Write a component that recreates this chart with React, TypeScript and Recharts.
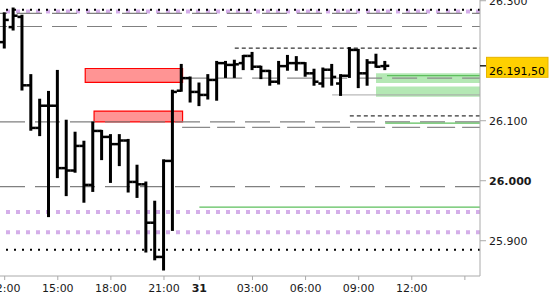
import { ComposedChart, Bar, XAxis, YAxis, ReferenceLine, ReferenceArea } from 'recharts'

// 30 minute bars, 30 Oct 12:00 -> 31 Oct 10:30 (no trading 23:00-00:00)
const times = [
    '12:00', '12:30', '13:00', '13:30', '14:00', '14:30', '15:00', '15:30', '16:00', '16:30', '17:00',
    '17:30', '18:00', '18:30', '19:00', '19:30', '20:00', '20:30', '21:00', '21:30', '22:00', '22:30',
    '00:00', '00:30', '01:00', '01:30', '02:00', '02:30', '03:00', '03:30', '04:00', '04:30', '05:00',
    '05:30', '06:00', '06:30', '07:00', '07:30', '08:00', '08:30', '09:00', '09:30', '10:00', '10:30',
]
const opens = [
    26231, 26256, 26273, 26159, 26088, 26125, 26125, 26021, 26017, 26058, 25993, 26083, 26073, 26061, 26067,
    25998, 25994, 25930, 25873, 26033, 26150, 26171, 26148, 26143, 26168, 26196, 26193, 26196, 26208, 26190,
    26183, 26165, 26191, 26196, 26196, 26179, 26162, 26185, 26162, 26175, 26218, 26179, 26197, 26191,
]
const highs = [
    26279, 26287, 26275, 26176, 26135, 26148, 26183, 26100, 26080, 26065, 26097, 26083, 26076, 26076, 26068,
    26025, 25997, 25965, 26034, 26150, 26193, 26172, 26162, 26176, 26198, 26198, 26200, 26208, 26213, 26190,
    26183, 26198, 26208, 26206, 26196, 26185, 26187, 26193, 26176, 26221, 26218, 26201, 26210, 26198,
]
const lows = [
    26222, 26252, 26152, 26085, 26076, 25941, 26006, 25976, 26015, 25965, 25983, 26036, 25998, 26026, 25982,
    25973, 25882, 25869, 25852, 25918, 26150, 26132, 26126, 26137, 26135, 26173, 26173, 26186, 26186, 26171,
    26160, 26162, 26185, 26185, 26175, 26160, 26157, 26160, 26143, 26173, 26156, 26160, 26190, 26186,
]
const closes = [
    26268, 26275, 26159, 26088, 26125, 26125, 26021, 26017, 26058, 25993, 26083, 26073, 26061, 26067, 25998,
    25994, 25930, 25873, 26033, 26148, 26171, 26148, 26143, 26168, 26196, 26193, 26194, 26208, 26190, 26183,
    26165, 26191, 26196, 26196, 26179, 26165, 26185, 26173, 26175, 26218, 26179, 26197, 26190, 26191.5,
]

const lastPrice = 26191.5

const xTicks = [0, 6, 12, 18, 22, 28, 34, 40, 46, 52]
const xTickLabels = ['12:00', '15:00', '18:00', '21:00', '31', '03:00', '06:00', '09:00', '12:00', '']
const yTicks = [25900, 26000, 26100, lastPrice, 26300]

const xMin = -0.53
const xMax = 53.71
const yMin = 25841.2
const yMax = 26301.2

// horizontal levels
const blackDotLevels = [26285, 25885]
const purpleDotLevels = [26282, 25948, 25914]
const grayDashTop = [26279, 26257]
const grayDashLevels = [26098, 25990]
const grayDashFrom = { level: 26171, from: 20.05 }
const grayDash2From = { level: 26089, from: 20.05 }
const graySolidFrom = { level: 26143, from: 37 }
const blackDashFrom = [
    { level: 26221, from: 26 },
    { level: 26108, from: 39 },
]
const greenLines = [
    { level: 26175, from: 43.2 },
    { level: 26096, from: 43 },
    { level: 25956, from: 22 },
]
const redZones = [
    { x1: 9.1, x2: 20.1, y1: 26164, y2: 26187 },
    { x1: 10.1, x2: 20.1, y1: 26098, y2: 26116 },
]
const greenZones = [
    { x1: 41.96, y1: 26163, y2: 26179 },
    { x1: 41.96, y1: 26140, y2: 26157 },
]

const rows = times.map((t, i) => ({
    idx: i,
    time: t,
    open: opens[i],
    high: highs[i],
    low: lows[i],
    close: closes[i],
}))

const fmt = (v: number) => {
    const int = Math.floor(v)
    const s = String(int)
    const th = s.slice(0, -3) + '.' + s.slice(-3)
    if (v !== int) return th + ',' + Math.round((v - int) * 100).toString().padStart(2, '0')
    return th
}

const OhlcShape = (props: any) => {
    const { x, y, width, height, payload } = props
    const cx = x + width / 2
    const span = payload.high - payload.low
    const at = (p: number) => (span === 0 ? y : y + ((payload.high - p) / span) * height)
    return (
        <g stroke="#000">
            <line x1={cx} x2={cx} y1={y - 1} y2={y + height + 1} strokeWidth={3} />
            <line x1={cx - 4.5} x2={cx} y1={at(payload.open)} y2={at(payload.open)} strokeWidth={2.5} />
            <line x1={cx} x2={cx + 4.5} y1={at(payload.close)} y2={at(payload.close)} strokeWidth={2.5} />
        </g>
    )
}

const TimeTick = (props: any) => {
    const { x, y, payload } = props
    const label = xTickLabels[xTicks.indexOf(payload.value)]
    return (
        <text
            x={x}
            y={y + 10}
            textAnchor="middle"
            fontSize={11}
            fontFamily="DejaVu Sans"
            fontWeight={label === '31' ? 'bold' : 'normal'}
            fill="#1a1a1a"
        >
            {label}
        </text>
    )
}

const PriceTick = (props: any) => {
    const { x, y, payload } = props
    const v = payload.value
    if (v === lastPrice) {
        return (
            <g>
                <line x1={x - 8} x2={x - 1} y1={y} y2={y} stroke="#000" strokeWidth={1.2} />
                <rect x={x - 1.5} y={y - 8.5} width={61.5} height={20} fill="#ffd000" stroke="#e6b400" />
                <text x={x + 1} y={y + 9} fontSize={11} fontFamily="DejaVu Sans" fill="#000">
                    {fmt(v)}
                </text>
            </g>
        )
    }
    return (
        <text
            x={x + 1}
            y={y + 4}
            fontSize={11}
            fontFamily="DejaVu Sans"
            fontWeight={v === 26000 ? 'bold' : 'normal'}
            fill="#1a1a1a"
        >
            {fmt(v)}
        </text>
    )
}

export default function App() {
    return (
        <div style={{ position: 'absolute', left: 0, top: 0, width: 550, height: 300, background: '#fff' }}>
            <ComposedChart width={550} height={300} data={rows} margin={{ top: 0, right: 0, bottom: 0, left: 0 }}>
                <XAxis
                    dataKey="idx"
                    type="number"
                    domain={[xMin, xMax]}
                    allowDataOverflow
                    ticks={xTicks}
                    interval={0}
                    height={24}
                    tickSize={4}
                    tickMargin={2}
                    axisLine={{ stroke: '#aaa' }}
                    tickLine={{ stroke: '#aaa' }}
                    tick={(p: any) => <TimeTick {...p} />}
                />
                <YAxis
                    type="number"
                    orientation="right"
                    width={70}
                    domain={[yMin, yMax]}
                    allowDataOverflow
                    ticks={yTicks}
                    interval={0}
                    tickSize={6}
                    tickMargin={2}
                    axisLine={{ stroke: '#aaa' }}
                    tickLine={{ stroke: '#aaa' }}
                    tick={(p: any) => <PriceTick {...p} />}
                />

                {redZones.map((z, i) => (
                    <ReferenceArea
                        key={`red-${i}`}
                        x1={z.x1}
                        x2={z.x2}
                        y1={z.y1}
                        y2={z.y2}
                        fill="#ff9494"
                        fillOpacity={1}
                        stroke="#ff0000"
                        strokeWidth={1.2}
                        zIndex={50}
                    />
                ))}
                {greenZones.map((z, i) => (
                    <ReferenceArea
                        key={`green-${i}`}
                        x1={z.x1}
                        x2={xMax}
                        y1={z.y1}
                        y2={z.y2}
                        fill="#b4e8b4"
                        fillOpacity={1}
                        stroke="none"
                        zIndex={50}
                    />
                ))}

                {purpleDotLevels.map((l) => (
                    <ReferenceLine key={`pu-${l}`} y={l} stroke="#d4aee9" strokeWidth={4} strokeDasharray="4 6" zIndex={60} />
                ))}
                {blackDotLevels.map((l) => (
                    <ReferenceLine key={`bd-${l}`} y={l} stroke="#000" strokeWidth={2} strokeDasharray="2 6" zIndex={60} />
                ))}
                {grayDashTop.map((l) => (
                    <ReferenceLine
                        key={`gt-${l}`}
                        y={l}
                        stroke="#808080"
                        strokeWidth={1.2}
                        strokeDasharray="25 10"
                        strokeDashoffset={17}
                        zIndex={60}
                    />
                ))}
                {grayDashLevels.map((l) => (
                    <ReferenceLine key={`gd-${l}`} y={l} stroke="#808080" strokeWidth={1.2} strokeDasharray="25 10" zIndex={60} />
                ))}
                <ReferenceLine
                    segment={[
                        { x: grayDashFrom.from, y: grayDashFrom.level },
                        { x: xMax, y: grayDashFrom.level },
                    ]}
                    stroke="#8a8a8a"
                    strokeWidth={1.2}
                    strokeDasharray="25 10"
                    zIndex={60}
                />
                <ReferenceLine
                    segment={[
                        { x: grayDash2From.from, y: grayDash2From.level },
                        { x: xMax, y: grayDash2From.level },
                    ]}
                    stroke="#8a8a8a"
                    strokeWidth={1.2}
                    strokeDasharray="28 7"
                    zIndex={60}
                />
                <ReferenceLine
                    segment={[
                        { x: graySolidFrom.from, y: graySolidFrom.level },
                        { x: xMax, y: graySolidFrom.level },
                    ]}
                    stroke="#a8a8a8"
                    strokeWidth={1}
                    zIndex={60}
                />
                {blackDashFrom.map((d) => (
                    <ReferenceLine
                        key={`bk-${d.level}`}
                        segment={[
                            { x: d.from, y: d.level },
                            { x: xMax, y: d.level },
                        ]}
                        stroke="#000"
                        strokeWidth={1}
                        strokeDasharray="4 3"
                        zIndex={60}
                    />
                ))}
                {greenLines.map((d) => (
                    <ReferenceLine
                        key={`gl-${d.level}`}
                        segment={[
                            { x: d.from, y: d.level },
                            { x: xMax, y: d.level },
                        ]}
                        stroke="#5cbf5c"
                        strokeWidth={1.3}
                        zIndex={60}
                    />
                ))}

                <Bar
                    dataKey={(d: any) => [d.low, d.high]}
                    barSize={4}
                    shape={(p: any) => <OhlcShape {...p} />}
                    isAnimationActive={false}
                />
            </ComposedChart>
        </div>
    )
}
